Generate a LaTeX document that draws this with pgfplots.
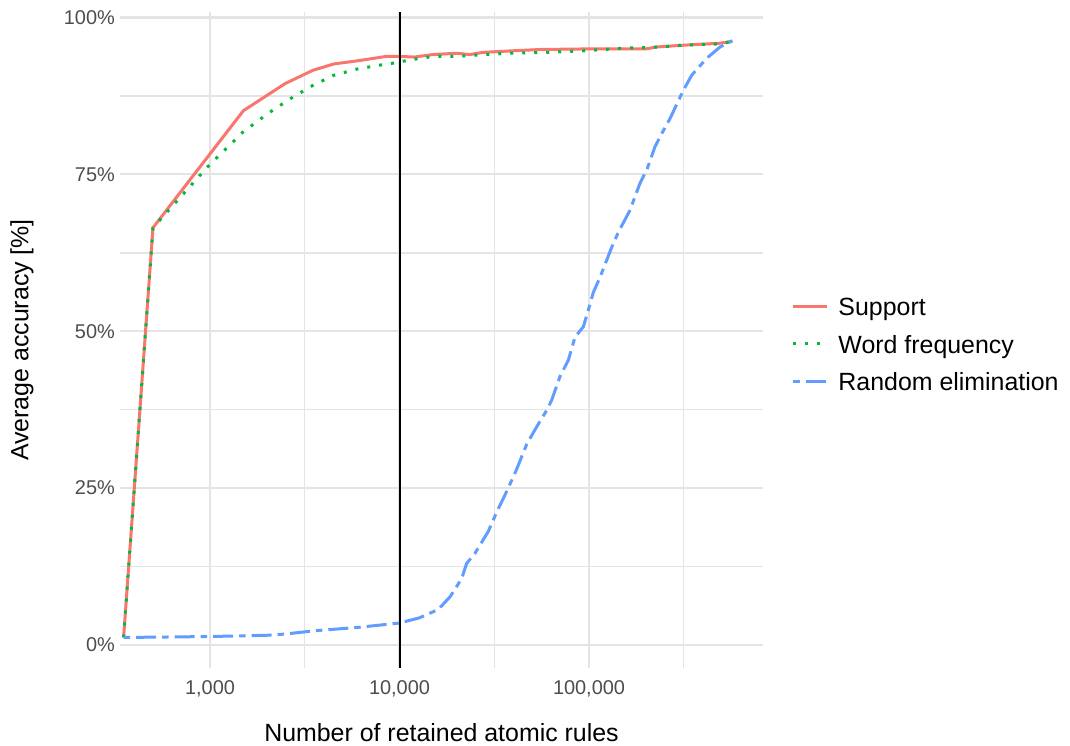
\documentclass[border=0pt]{standalone}
\usepackage{pgfplots}
\pgfplotsset{compat=1.18}
\usepackage{fontspec}
\setmainfont{Liberation Sans}
\definecolor{cred}{HTML}{F8766D}
\definecolor{cgreen}{HTML}{00BA38}
\definecolor{cblue}{HTML}{619CFF}
\definecolor{gridc}{HTML}{E4E4E4}
\definecolor{tickc}{HTML}{4D4D4D}
\begin{document}
\begin{tikzpicture}
\useasboundingbox (0,0) rectangle (1070bp,746bp);
\begin{axis}[
  at={(120bp,78bp)}, anchor=south west,
  scale only axis, width=643bp, height=656bp,
  xmode=log, xmin=335, xmax=828300, ymin=-3.665, ymax=100.88,
  xtick={1000,10000,100000}, xticklabels={{1,000},{10,000},{100,000}},
  minor xtick={3162.28,31622.8,316228},
  ytick={0,25,50,75,100}, yticklabels={0\%,25\%,50\%,75\%,100\%},
  minor ytick={12.5,37.5,62.5,87.5},
  grid=both,
  major grid style={gridc, line width=2.2bp},
  minor grid style={gridc, line width=1.4bp},
  axis line style={draw=none},
  major tick length=0pt, minor tick length=0pt,
  tick style={draw=none},
  ticklabel style={font=\fontsize{20}{24}\selectfont, text=tickc},
  xticklabel style={inner sep=0pt, anchor=north, yshift=-12bp},
  yticklabel style={inner sep=0pt, anchor=east, xshift=-5bp},
  xlabel={Number of retained atomic rules},
  ylabel={Average accuracy [\%]},
  label style={font=\fontsize{25}{30}\selectfont},
  xlabel style={at={(axis description cs:0.5,-0.0991)}, anchor=center, inner sep=0pt},
  ylabel style={at={(axis description cs:-0.1524,0.5)}, anchor=center, inner sep=0pt},
  legend style={at={(axis description cs:1.0446,0.565)}, anchor=north west,
    draw=none, fill=none, inner sep=0pt, font=\fontsize{25}{30}\selectfont,
    row sep=14.6bp, column sep=9.6bp,
    nodes={inner sep=0pt, text height=18bp, text depth=5bp}},
  legend cell align=left,
  legend image code/.code={\draw[#1] (0bp,3bp) -- (34bp,3bp);},
]
\addplot[cred, line width=3bp] coordinates {
(350,1.2) (500,66.5) (1500,85.15) (2500,89.5) (3500,91.6) (4500,92.6) (6000,93.1) (8500,93.8) (10000,93.8) (12000,93.7) (15000,94.1) (20000,94.3) (23500,94.1) (27700,94.45) (40000,94.7) (55000,94.9) (100000,95.0) (200000,95.0) (227000,95.3) (300000,95.55) (490000,95.9) (570000,96.2)
};
\addlegendentry{Support}
\addplot[cgreen, line width=3bp, dash pattern=on 3bp off 9bp] coordinates {
(350,1.2) (500,66.5) (900,75.1) (1000,76.6) (1500,81.8) (2000,84.6) (2600,86.9) (3400,89.0) (4500,90.8) (6000,91.8) (8200,92.5) (9600,92.8) (11100,93.2) (15000,93.8) (20000,93.8) (28000,94.1) (38000,94.3) (60000,94.45) (94000,94.7) (150000,95.1) (235000,95.3) (316000,95.6) (490000,95.8) (570000,96.2)
};
\addlegendentry{Word frequency}
\addplot[cblue, line width=3bp, dash pattern=on 6.5bp off 6bp on 20bp off 6bp] coordinates {
(350,1.2) (500,1.25) (1000,1.35) (2000,1.55) (2500,1.75) (3500,2.25) (6000,2.8) (10000,3.5) (12800,4.35) (16000,5.65) (18500,7.7) (21300,10.6) (22600,13.0) (25000,14.6) (29400,18.1) (32600,21.2) (36800,24.5) (41500,28.0) (46900,32.0) (53000,34.8) (59800,37.4) (63500,39.0) (70300,42.8) (77800,45.4) (84400,49.1) (93300,50.7) (99200,53.4) (105400,56.2) (114300,58.6) (131800,63.4) (142900,65.8) (164600,69.3) (185800,73.6) (201600,75.7) (222900,79.4) (241900,81.5) (267600,83.9) (314600,88.4) (348300,90.8) (417900,93.5) (491300,95.3) (570000,96.3)
};
\addlegendentry{Random elimination}
\addplot[black, line width=2bp, forget plot] coordinates {(10000,-3.665) (10000,100.88)};
\end{axis}
\end{tikzpicture}
\end{document}
